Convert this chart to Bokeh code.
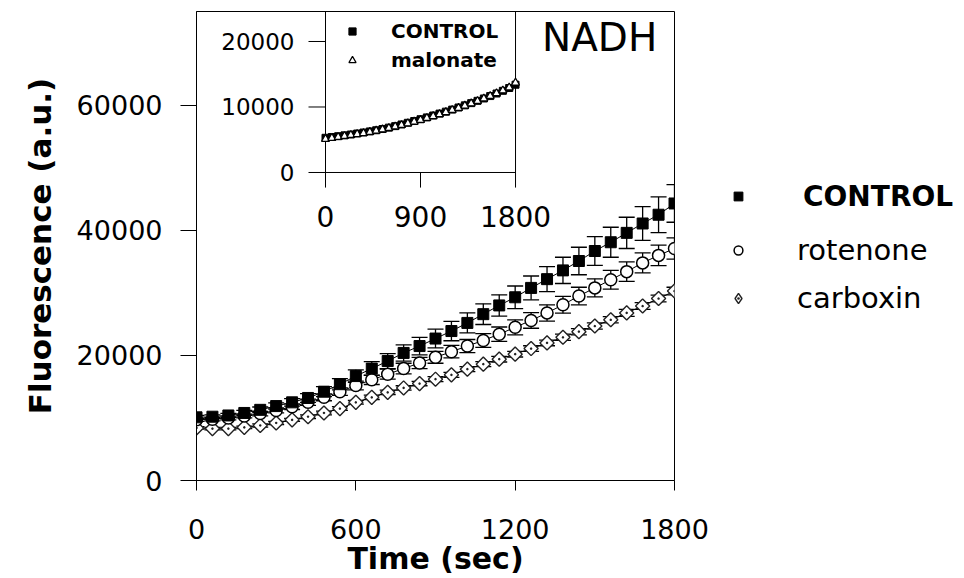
import numpy as np
from bokeh.plotting import figure
from bokeh.layouts import row
from bokeh.models import (Range1d, FixedTicker, Legend, LegendItem, Whisker,
                          TeeHead, ColumnDataSource, NumeralTickFormatter)
from bokeh.embed import file_html
from bokeh.resources import INLINE
from bokeh.core.properties import value

# ---------------- data ----------------
time_s = [0, 60, 120, 180, 240, 300, 360, 420, 480, 540, 600, 660, 720, 780, 840, 900,
          960, 1020, 1080, 1140, 1200, 1260, 1320, 1380, 1440, 1500, 1560, 1620, 1680, 1740, 1800]

control = [10100, 10200, 10400, 10800, 11300, 11900, 12500, 13200, 14200, 15400, 16700,
           17900, 19100, 20400, 21500, 22700, 23900, 25200, 26600, 28000, 29300, 30800,
           32200, 33600, 35100, 36700, 38100, 39600, 41100, 42500, 44300]
control_err = [300, 300, 350, 400, 450, 500, 600, 700, 800, 900, 1000, 1100, 1200, 1300,
               1400, 1500, 1550, 1600, 1650, 1700, 1800, 1900, 2000, 2100, 2200, 2300, 2400,
               2500, 2700, 2850, 3000]

rotenone = [9700, 9800, 10000, 10300, 10700, 11200, 11800, 12500, 13300, 14200, 15200,
            16100, 17000, 17900, 18800, 19700, 20600, 21500, 22400, 23400, 24500, 25600,
            26800, 28100, 29500, 30800, 32100, 33400, 34800, 36000, 37100]
rotenone_err = [250, 250, 300, 300, 350, 400, 450, 500, 550, 600, 700, 750, 800, 850, 900,
                950, 1000, 1050, 1100, 1150, 1200, 1250, 1300, 1350, 1400, 1450, 1500, 1550,
                1600, 1650, 1700]

carboxin = [8400, 8300, 8300, 8500, 8800, 9200, 9700, 10200, 10800, 11500, 12500, 13300,
            14100, 14800, 15500, 16200, 16900, 17800, 18600, 19400, 20200, 21100, 22000,
            22900, 23800, 24700, 25700, 26800, 27900, 29100, 30300]
carboxin_err = [200, 200, 200, 200, 250, 250, 250, 300, 300, 300, 300, 350, 350, 350, 350,
                400, 400, 400, 400, 450, 450, 450, 450, 500, 500, 500, 500, 550, 550, 550, 600]

inset_control = [5300, 5420, 5540, 5670, 5800, 5950, 6100, 6270, 6450, 6640, 6850, 7080,
                 7330, 7590, 7860, 8130, 8410, 8700, 8990, 9290, 9600, 9920, 10250, 10590,
                 10940, 11300, 11670, 12060, 12470, 12900, 13400]
inset_malonate = [5100, 5250, 5400, 5550, 5700, 5850, 6000, 6180, 6370, 6570, 6780, 7000,
                  7240, 7490, 7750, 8020, 8300, 8590, 8890, 9200, 9520, 9850, 10190, 10540,
                  10900, 11280, 11670, 12080, 12510, 12960, 13700]

x_ticks = [0, 600, 1200, 1800]
y_ticks = [0, 20000, 40000, 60000]
inset_x_ticks = [0, 900, 1800]
inset_y_ticks = [0, 10000, 20000]

series_labels = ["CONTROL", "rotenone", "carboxin"]
inset_labels = ["CONTROL", "malonate"]
panel_label = "NADH"

FONT = "DejaVu Sans"

# ---------------- main figure ----------------
p = figure(width=720, height=578, x_range=Range1d(0, 1800), y_range=Range1d(0, 75000),
           output_backend="svg", toolbar_location=None,
           min_border_left=196, min_border_right=46, min_border_top=11, min_border_bottom=98)
p.xgrid.visible = False
p.ygrid.visible = False
p.outline_line_color = "black"
p.outline_line_width = 1
p.background_fill_color = "white"
p.border_fill_color = "white"

p.xaxis.ticker = FixedTicker(ticks=x_ticks, minor_ticks=[])
p.yaxis.ticker = FixedTicker(ticks=y_ticks, minor_ticks=[])
p.yaxis.formatter = NumeralTickFormatter(format="0")
for ax in (p.xaxis, p.yaxis):
    ax.axis_line_color = "black"
    ax.axis_line_width = 1
    ax.major_tick_line_color = "black"
    ax.major_tick_line_width = 1
    ax.major_tick_in = 0
    ax.minor_tick_out = 0
    ax.minor_tick_in = 0
    ax.major_label_text_font = FONT
    ax.major_label_text_font_size = "27px"
    ax.major_label_text_color = "black"
    ax.axis_label_text_font = FONT
    ax.axis_label_text_font_style = "bold"
    ax.axis_label_text_color = "black"
p.xaxis.major_tick_out = 10
p.xaxis.major_label_standoff = 28
p.xaxis.axis_label = "Time (sec)"
p.xaxis.axis_label_text_font_size = "30px"
p.xaxis.axis_label_standoff = -1
p.yaxis.major_tick_out = 16
p.yaxis.major_label_standoff = 18
p.yaxis.axis_label = "Fluorescence (a.u.)"
p.yaxis.axis_label_text_font_size = "31px"
p.yaxis.axis_label_standoff = 16

# ---------------- main series ----------------
c = np.array(control); ce = np.array(control_err)
r = np.array(rotenone); re = np.array(rotenone_err)
k = np.array(carboxin); ke = np.array(carboxin_err)
src = ColumnDataSource(dict(t=time_s, c=control, r=rotenone, k=carboxin,
                            c_lo=c - ce, c_hi=c + ce, r_lo=r - re, r_hi=r + re,
                            k_lo=k - ke, k_hi=k + ke))

for lo, hi in (("k_lo", "k_hi"), ("r_lo", "r_hi"), ("c_lo", "c_hi")):
    p.add_layout(Whisker(base="t", lower=lo, upper=hi, source=src, line_color="black",
                         line_width=1.3,
                         upper_head=TeeHead(size=16, line_color="black", line_width=1.3),
                         lower_head=TeeHead(size=16, line_color="black", line_width=1.3)))

for col in ("k", "r", "c"):
    p.line("t", col, source=src, line_color="black", line_width=1)

STYLE_K = dict(marker="square_dot", angle=np.pi / 4, fill_color="white",
               line_color="#222222", line_width=1.4)
STYLE_R = dict(marker="circle", fill_color="white", line_color="black", line_width=1.5)
STYLE_C = dict(marker="square", fill_color="black", line_color="black")

r_k = p.scatter("t", "k", source=src, size=10, **STYLE_K)
r_r = p.scatter("t", "r", source=src, size=12, **STYLE_R)
r_c = p.scatter("t", "c", source=src, size=11, **STYLE_C)

# panel label (data units of the main axes)
p.text(x=[1518], y=[70920], text=[panel_label], text_align="center",
       text_baseline="middle", text_font=value(FONT), text_font_size="39px",
       text_color="black")

# ---------------- inset (extra ranges) ----------------
p.extra_x_ranges = {"ix": Range1d(-1222, 3306)}
p.extra_y_ranges = {"iy": Range1d(-47023, 24580)}
I = dict(x_range_name="ix", y_range_name="iy")
ix_tick_len = 161     # inset y tick length in inset x units
iy_tick_len = 2300    # inset x tick length in inset y units
iy_top = 24580

x0, x1 = inset_x_ticks[0], inset_x_ticks[-1]
p.segment(x0=[x0, x1], y0=[-iy_tick_len] * 2, x1=[x0, x1], y1=[iy_top] * 2,
          line_color="black", line_width=1, **I)
mid = inset_x_ticks[1:-1]
p.segment(x0=mid, y0=[0] * len(mid), x1=mid, y1=[-iy_tick_len] * len(mid),
          line_color="black", line_width=1, **I)
p.segment(x0=[-ix_tick_len] * len(inset_y_ticks), y0=inset_y_ticks,
          x1=[x1] + [x0] * (len(inset_y_ticks) - 1), y1=inset_y_ticks,
          line_color="black", line_width=1, **I)
p.text(x=[-294] * len(inset_y_ticks), y=inset_y_ticks, text=[str(v) for v in inset_y_ticks],
       text_align="right", text_baseline="middle", text_font=value(FONT),
       text_font_size="23px", text_color="black", **I)
p.text(x=inset_x_ticks, y=[-6718] * len(inset_x_ticks), text=[str(v) for v in inset_x_ticks],
       text_align="center", text_baseline="middle", text_font=value(FONT),
       text_font_size="28px", text_color="black", **I)

isrc = ColumnDataSource(dict(t=time_s, c=inset_control, m=inset_malonate))
ri_c = p.scatter("t", "c", source=isrc, marker="square", size=7, fill_color="black",
                 line_color="black", **I)
ri_m = p.scatter("t", "m", source=isrc, marker="triangle", size=8, fill_color="white",
                 line_color="black", line_width=1.2, **I)


def one_legend(label, rend, vx, vy, gw, standoff, size, style):
    return Legend(items=[LegendItem(label=label, renderers=[rend])], location=(vx, vy),
                  glyph_width=gw, glyph_height=40, label_height=40, label_standoff=standoff,
                  label_text_font=FONT, label_text_font_size=size,
                  label_text_font_style=style, label_text_color="black",
                  padding=0, margin=0, spacing=0, border_line_alpha=0,
                  background_fill_alpha=0, inactive_fill_alpha=0)


p.add_layout(one_legend(inset_labels[0], ri_c, 147, 429, 18, 30, "20px", "bold"))
p.add_layout(one_legend(inset_labels[1], ri_m, 147, 400, 18, 30, "20px", "bold"))

# ---------------- legend figure (right side; frame aligned with main frame) ----------------
q = figure(width=244, height=578, x_range=Range1d(0, 1), y_range=Range1d(0, 1),
           output_backend="svg", toolbar_location=None,
           min_border_left=0, min_border_right=0, min_border_top=11, min_border_bottom=98)
q.axis.visible = False
q.xgrid.visible = False
q.ygrid.visible = False
q.outline_line_color = None
q.background_fill_color = "white"
q.border_fill_color = "white"

# hidden copies of the series, used only as legend glyphs
lsrc = ColumnDataSource(dict(t=time_s, c=control, r=rotenone, k=carboxin))
e_c = q.scatter("t", "c", source=lsrc, size=11, visible=False, **STYLE_C)
e_r = q.scatter("t", "r", source=lsrc, size=12, visible=False, **STYLE_R)
e_k = q.scatter("t", "k", source=lsrc, size=10, visible=False, marker="diamond_dot",
                fill_color="white", line_color="#222222", line_width=1.4)

q.add_layout(one_legend(series_labels[0], e_c, 7, 264, 22, 54, "28px", "bold"))
q.add_layout(one_legend(series_labels[1], e_r, 7, 210, 22, 48, "29px", "normal"))
q.add_layout(one_legend(series_labels[2], e_k, 5, 162, 26, 46, "29px", "normal"))

layout = row(p, q)
open("out.html", "w").write(file_html(layout, INLINE))
